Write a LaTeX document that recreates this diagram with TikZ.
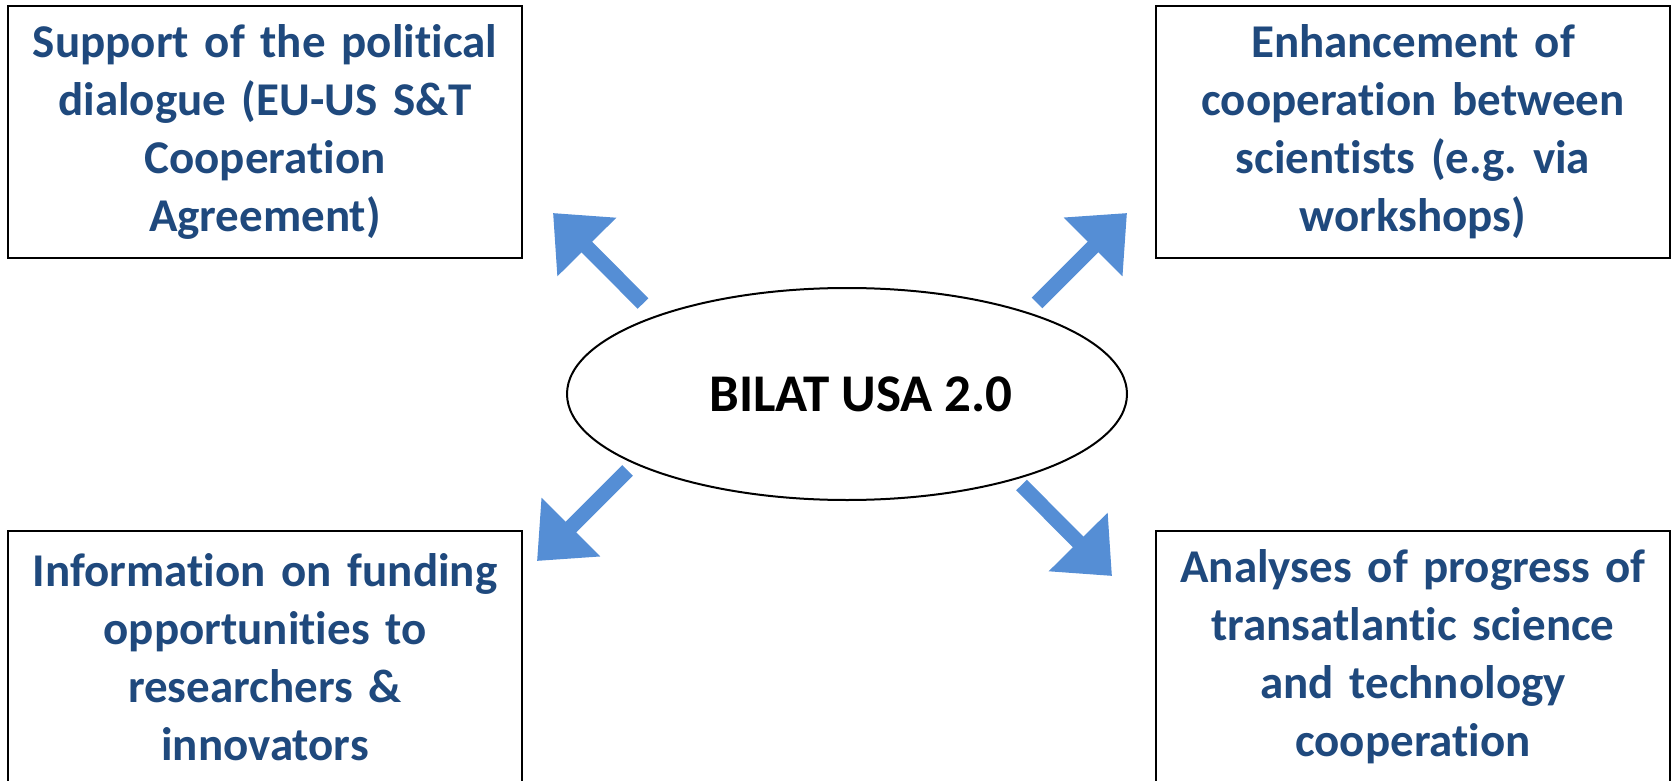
\documentclass[tikz,border=0pt]{standalone}
\usepackage{fontspec}
\setmainfont{Carlito}[Ligatures=NoCommon]
\usetikzlibrary{shapes.geometric,arrows.meta}
\definecolor{goaltext}{HTML}{1F497D}
\definecolor{arrowblue}{HTML}{558ED5}
\frenchspacing
\tikzset{%
  goal/.style = {rectangle,draw,line width=1.5pt,minimum width=514pt,
        minimum height=252pt,text width=505pt,align=center,
        text=goaltext,font=\fontsize{47}{58}\selectfont\bfseries},
  hub/.style = {ellipse,draw,line width=2pt,minimum width=560pt,
        minimum height=212pt,font=\fontsize{53}{60}\selectfont\bfseries},
  blockarrow/.style = {-{Triangle[width=80pt,length=48pt]},line width=15pt,
        draw=arrowblue,fill=arrowblue}
}
\begin{document}
\begin{tikzpicture}[x=1pt,y=-1pt]
\useasboundingbox (0,0) rectangle (1671,781);
\node[hub] (bilat) at (847,394) {\hspace*{28pt}BILAT USA 2.0};
\node[goal] (dialogue) at (265,132) {Support of the political\\
    dialogue (EU-US S\&T\\ Cooperation\\ Agreement)};
\node[goal] (scientists) at (1413,132) {Enhancement of\\
    cooperation between\\ scientists (e.g. via\\ workshops)};
\node[goal] (funding) at (265,657) {Information on funding\\
    opportunities to\\ researchers \&\\ innovators};
\node[goal] (analyses) at (1413,657) {Analyses of progress of\\
    transatlantic science\\ and technology\\ cooperation};
% free ends of the arrows
\coordinate (nw-from) at (643,303.5);
\coordinate (nw-to) at (553,213);
\coordinate (ne-from) at (1037,303);
\coordinate (ne-to) at (1127,213);
\coordinate (sw-from) at (627.5,470.5);
\coordinate (sw-to) at (537,561);
\coordinate (se-from) at (1021.5,485);
\coordinate (se-to) at (1112,576);
\draw[blockarrow] (nw-from) -- (nw-to);
\draw[blockarrow] (ne-from) -- (ne-to);
\draw[blockarrow] (sw-from) -- (sw-to);
\draw[blockarrow] (se-from) -- (se-to);
\end{tikzpicture}
\end{document}
